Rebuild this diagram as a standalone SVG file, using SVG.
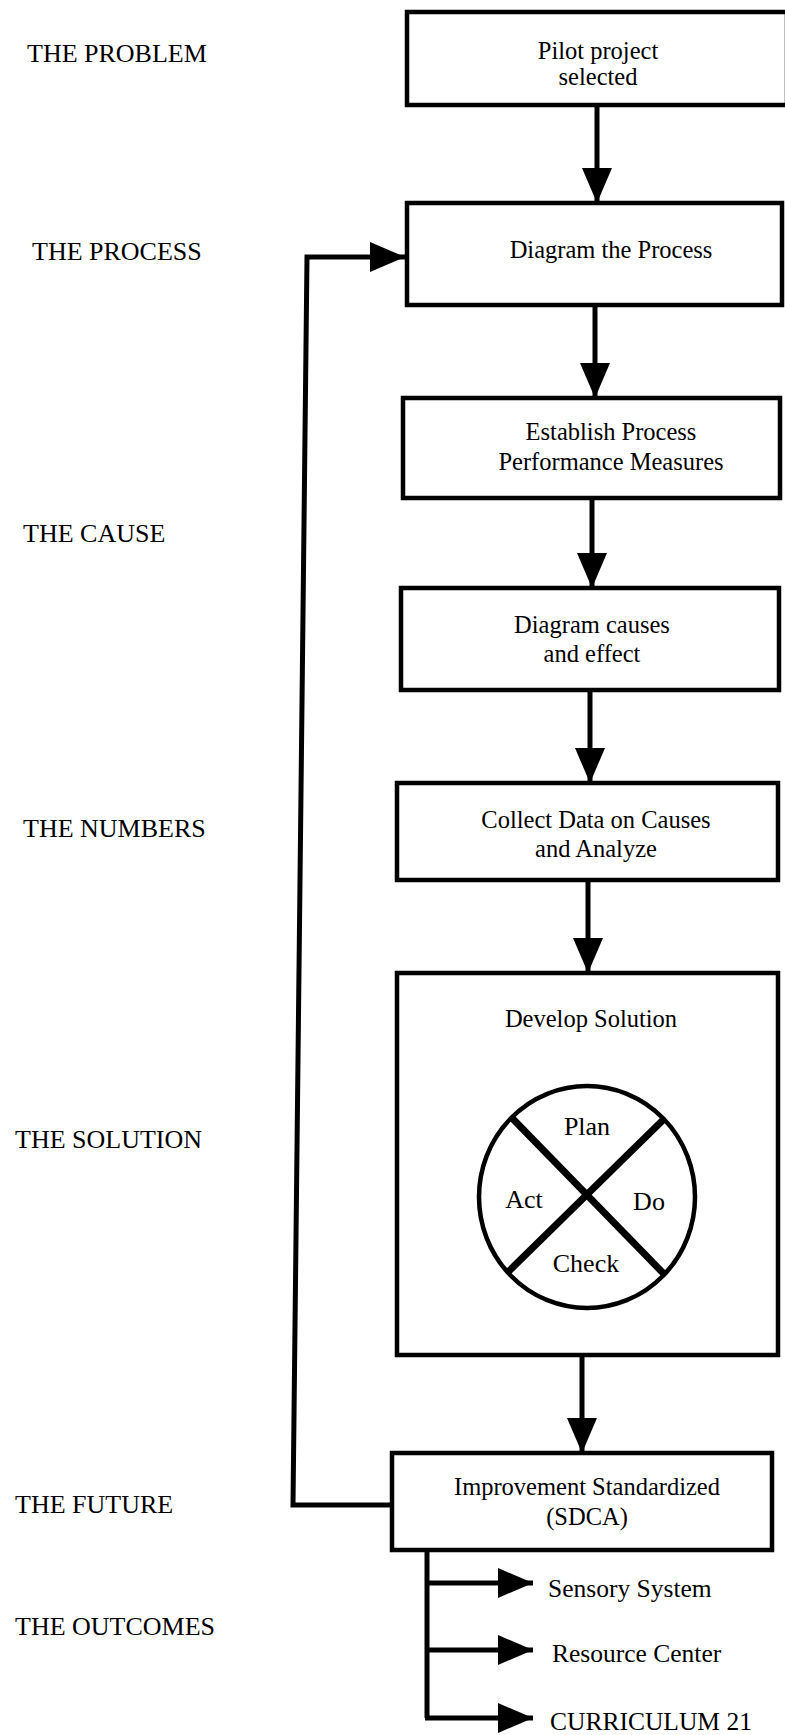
<svg xmlns="http://www.w3.org/2000/svg" width="785" height="1735" viewBox="0 0 785 1735">
<defs>
<style>
.box{fill:#fff;stroke:#000;stroke-width:4.5}
.lbl{font-family:"Liberation Serif","Times New Roman",serif;font-size:26px;fill:#000}
.t{font-family:"Liberation Serif","Times New Roman",serif;font-size:24.5px;fill:#000;text-anchor:middle}
.pd{font-family:"Liberation Serif","Times New Roman",serif;font-size:26px;fill:#000;text-anchor:middle}
.out{font-family:"Liberation Serif","Times New Roman",serif;font-size:25.5px;fill:#000}
.ln{fill:none;stroke:#000;stroke-width:5}
</style>
<marker id="ah" markerUnits="userSpaceOnUse" markerWidth="40" markerHeight="32" refX="35" refY="15" orient="auto" viewBox="0 0 40 32">
<path d="M0,0 L35,15 L0,30 z" fill="#000"/>
</marker>
</defs>
<rect width="785" height="1735" fill="#fff"/>

<g id="labels">
<text class="lbl" x="27" y="62">THE PROBLEM</text>
<text class="lbl" x="32" y="260">THE PROCESS</text>
<text class="lbl" x="23" y="542">THE CAUSE</text>
<text class="lbl" x="23" y="837">THE NUMBERS</text>
<text class="lbl" x="15" y="1148">THE SOLUTION</text>
<text class="lbl" x="15" y="1513">THE FUTURE</text>
<text class="lbl" x="15" y="1635">THE OUTCOMES</text>
</g>

<g id="connectors">
<line class="ln" x1="597" y1="105" x2="597" y2="203" marker-end="url(#ah)"/>
<line class="ln" x1="595" y1="305" x2="595" y2="398" marker-end="url(#ah)"/>
<line class="ln" x1="592" y1="498" x2="592" y2="588" marker-end="url(#ah)"/>
<line class="ln" x1="590" y1="690" x2="590" y2="783" marker-end="url(#ah)"/>
<line class="ln" x1="588" y1="880" x2="588" y2="973" marker-end="url(#ah)"/>
<line class="ln" x1="582" y1="1355" x2="582" y2="1453" marker-end="url(#ah)"/>
<path class="ln" d="M392,1505 L293,1505 L307,257 L405,257" marker-end="url(#ah)"/>
<path class="ln" d="M427,1550 L427,1718"/>
<line class="ln" x1="427" y1="1583" x2="533" y2="1583" marker-end="url(#ah)"/>
<line class="ln" x1="427" y1="1650" x2="533" y2="1650" marker-end="url(#ah)"/>
<line class="ln" x1="425" y1="1718" x2="533" y2="1718" marker-end="url(#ah)"/>
</g>

<g id="n1">
<rect class="box" x="407" y="12" width="380" height="93"/>
<text class="t" x="598" y="59">Pilot project</text>
<text class="t" x="598" y="85">selected</text>
</g>
<g id="n2">
<rect class="box" x="407" y="203" width="375" height="102"/>
<text class="t" x="611" y="258">Diagram the Process</text>
</g>
<g id="n3">
<rect class="box" x="403" y="398" width="377" height="100"/>
<text class="t" x="611" y="440">Establish Process</text>
<text class="t" x="611" y="470">Performance Measures</text>
</g>
<g id="n4">
<rect class="box" x="401" y="588" width="378" height="102"/>
<text class="t" x="592" y="633">Diagram causes</text>
<text class="t" x="592" y="662">and effect</text>
</g>
<g id="n5">
<rect class="box" x="397" y="783" width="381" height="97"/>
<text class="t" x="596" y="828">Collect Data on Causes</text>
<text class="t" x="596" y="857">and Analyze</text>
</g>
<g id="n6">
<rect class="box" x="397" y="973" width="381" height="382"/>
<text class="t" x="591" y="1027">Develop Solution</text>
<ellipse cx="587" cy="1197" rx="108" ry="111" fill="none" stroke="#000" stroke-width="4.5"/>
<line x1="512" y1="1118" x2="665" y2="1275" stroke="#000" stroke-width="7"/>
<line x1="663" y1="1120" x2="507" y2="1273" stroke="#000" stroke-width="7"/>
<text class="pd" x="587" y="1135">Plan</text>
<text class="pd" x="524" y="1208">Act</text>
<text class="pd" x="649" y="1210">Do</text>
<text class="pd" x="586" y="1272">Check</text>
</g>
<g id="n7">
<rect class="box" x="392" y="1453" width="380" height="97"/>
<text class="t" x="587" y="1495">Improvement Standardized</text>
<text class="t" x="587" y="1525">(SDCA)</text>
</g>
<g id="o1"><text class="out" x="548" y="1597">Sensory System</text></g>
<g id="o2"><text class="out" x="552" y="1662">Resource Center</text></g>
<g id="o3"><text class="out" x="550" y="1730">CURRICULUM 21</text></g>
</svg>
